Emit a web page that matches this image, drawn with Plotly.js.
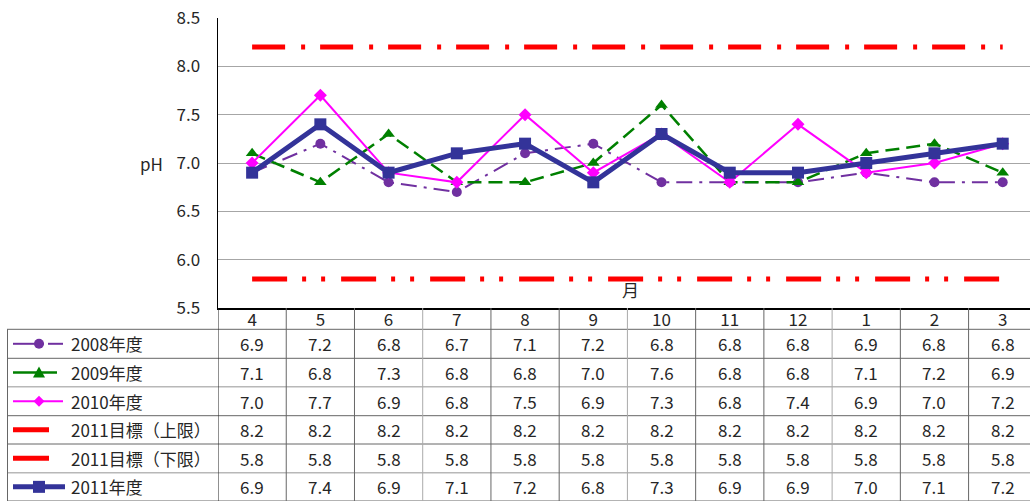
<!DOCTYPE html>
<html><head><meta charset="utf-8">
<script src="https://cdn.plot.ly/plotly-3.0.1.min.js"></script>
<style>html,body{margin:0;padding:0;background:#fff;overflow:hidden}#chart{width:1030px;height:501px}</style>
</head><body><div id="chart"></div>
<script>
// ---- data ----
const months = ['4','5','6','7','8','9','10','11','12','1','2','3'];
const v2008 = [6.9,7.2,6.8,6.7,7.1,7.2,6.8,6.8,6.8,6.9,6.8,6.8];
const v2009 = [7.1,6.8,7.3,6.8,6.8,7.0,7.6,6.8,6.8,7.1,7.2,6.9];
const v2010 = [7.0,7.7,6.9,6.8,7.5,6.9,7.3,6.8,7.4,6.9,7.0,7.2];
const upper2011 = [8.2,8.2,8.2,8.2,8.2,8.2,8.2,8.2,8.2,8.2,8.2,8.2];
const lower2011 = [5.8,5.8,5.8,5.8,5.8,5.8,5.8,5.8,5.8,5.8,5.8,5.8];
const v2011 = [6.9,7.4,6.9,7.1,7.2,6.8,7.3,6.9,6.9,7.0,7.1,7.2];
const seriesNames = ['2008年度','2009年度','2010年度','2011目標（上限）','2011目標（下限）','2011年度'];
const yTickVals = [5.5,6.0,6.5,7.0,7.5,8.0,8.5];
const yTitle = 'pH';
const xTitle = '月';

// ---- styles ----
const FONT = '"Noto Sans CJK JP", "Noto Sans", sans-serif';
const TXT = '#262626';
const FS = 17;
const W = 1030, H = 501, L = 218, R = 1030, T = 18, B = 308;
const px2x = p => (p - L) / (R - L);
const py2y = p => (B - p) / (B - T);

const styles = [
  {color:'#7030A0', width:2, dash:'16px,7px,3px,7px', symbol:'circle', size:10},
  {color:'#008000', width:2.5, dash:'14px,7px', symbol:'triangle-up', size:11},
  {color:'#FF00FF', width:2, dash:'solid', symbol:'diamond', size:10},
  {color:'#FF0000', width:5, dash:'33px,16px,4px,15px', symbol:null},
  {color:'#FF0000', width:5, dash:'35px,15px,4px,15px,4px,16px', symbol:null},
  {color:'#333399', width:5, dash:'solid', symbol:'square', size:12}
];
const seriesVals = [v2008, v2009, v2010, upper2011, lower2011, v2011];

const traces = seriesVals.map((vals, i) => {
  const s = styles[i];
  const t = {
    x: months, y: vals, name: seriesNames[i], type: 'scatter',
    mode: s.symbol ? 'lines+markers' : 'lines',
    line: {color: s.color, width: s.width, dash: s.dash},
    showlegend: false, hoverinfo: 'skip', cliponaxis: false
  };
  if (s.symbol) t.marker = {symbol: s.symbol, size: s.size, color: s.color, line: {width: 0}};
  return t;
});

// ---- table geometry (px) ----
const rowEdges = [329.3, 358.3, 386.7, 415.7, 444, 472.7, 501];
const shapes = [];
const annotations = [];
const gridCol = '#666';

rowEdges.forEach((py, k) => {
  const light = (k === 2 || k === 5);
  shapes.push({type:'line', xref:'paper', yref:'paper', x0: px2x(7), x1: 1, y0: py2y(py), y1: py2y(py),
    line:{color: light ? '#b8b8b8' : gridCol, width: light ? 1.5 : 1}});
});
shapes.push({type:'line', xref:'paper', yref:'paper', x0: px2x(7.5), x1: px2x(7.5), y0: py2y(rowEdges[0]), y1: py2y(501), line:{color:gridCol, width:1}});
for (let k = 0; k <= months.length; k++) {
  shapes.push({type:'line', xref:'x', yref:'paper', x0: k - 0.5, x1: k - 0.5, y0: 0, y1: py2y(501),
    line:{color: (k === 0) ? '#222' : (k % 3 === 0 ? '#aaa' : gridCol), width:1}});
}

// table values
seriesVals.forEach((vals, r) => {
  const cy = (rowEdges[r] + rowEdges[r+1]) / 2;
  vals.forEach((v, i) => {
    annotations.push({x: i, xref:'x', y: py2y(cy), yref:'paper', text: v.toFixed(1),
      showarrow:false, xanchor:'center', yanchor:'middle', font:{family:FONT, size:FS, color:TXT}});
  });
  annotations.push({x: px2x(69), xref:'paper', y: py2y(cy), yref:'paper', text: seriesNames[r],
    showarrow:false, xanchor:'left', yanchor:'middle', font:{family:FONT, size:FS, color:TXT}});
  const s = styles[r];
  const yk = py2y(cy);
  const lineEnd = [63, 57, 63, 49, 49, 65][r];
  if (r === 0) {
    shapes.push({type:'line', xref:'paper', yref:'paper', x0:px2x(13), x1:px2x(44), y0:yk, y1:yk, line:{color:s.color, width:s.width}});
    shapes.push({type:'line', xref:'paper', yref:'paper', x0:px2x(48), x1:px2x(63), y0:yk, y1:yk, line:{color:s.color, width:s.width}});
  } else {
    shapes.push({type:'line', xref:'paper', yref:'paper', x0:px2x(13), x1:px2x(lineEnd), y0:yk, y1:yk, line:{color:s.color, width:s.width}});
  }
  const cx = 39;
  const P = (dx, dy) => px2x(cx + dx) + ',' + py2y(cy + dy);
  if (s.symbol === 'circle') {
    shapes.push({type:'circle', xref:'paper', yref:'paper', x0:px2x(cx-5), x1:px2x(cx+5), y0:py2y(cy+5), y1:py2y(cy-5), fillcolor:s.color, line:{width:0}});
  } else if (s.symbol === 'triangle-up') {
    shapes.push({type:'path', xref:'paper', yref:'paper', path:'M' + P(0,-6) + ' L' + P(6,5) + ' L' + P(-6,5) + ' Z', fillcolor:s.color, line:{width:0}});
  } else if (s.symbol === 'diamond') {
    shapes.push({type:'path', xref:'paper', yref:'paper', path:'M' + P(0,-5.5) + ' L' + P(5.5,0) + ' L' + P(0,5.5) + ' L' + P(-5.5,0) + ' Z', fillcolor:s.color, line:{width:0}});
  } else if (s.symbol === 'square') {
    shapes.push({type:'rect', xref:'paper', yref:'paper', x0:px2x(cx-6), x1:px2x(cx+6), y0:py2y(cy+6), y1:py2y(cy-6), fillcolor:s.color, line:{width:0}});
  }
});

annotations.push({x: px2x(165), xref:'paper', y: py2y(163), yref:'paper', text: yTitle, showarrow:false,
  xanchor:'right', yanchor:'middle', font:{family:FONT, size:FS, color:TXT}});
annotations.push({x: px2x(630), xref:'paper', y: py2y(289), yref:'paper', text: xTitle, showarrow:false,
  xanchor:'center', yanchor:'middle', font:{family:FONT, size:FS, color:TXT}});

const layout = {
  width: W, height: H,
  margin: {l: L, r: W - R, t: T, b: H - B, pad: 0},
  paper_bgcolor: '#fff', plot_bgcolor: '#fff',
  showlegend: false,
  font: {family: FONT, color: TXT},
  xaxis: {type:'category', range:[-0.5, 11.4], showgrid:false, zeroline:false,
    showline:true, linecolor:'#000', linewidth:1.5, ticks:'', showticklabels:true,
    tickfont:{family:FONT, size:FS, color:TXT}, ticklabelstandoff: -4, fixedrange:true},
  yaxis: {range:[5.5, 8.5], tickvals: yTickVals, ticktext: yTickVals.map(v => v.toFixed(1)),
    showgrid:true, gridcolor:'#a6a6a6', gridwidth:1, zeroline:false,
    showline:true, linecolor:'#000', linewidth:1.5, ticks:'', ticklabelstandoff: 13,
    tickfont:{family:FONT, size:FS, color:TXT}, fixedrange:true},
  shapes: shapes,
  annotations: annotations
};

Plotly.newPlot('chart', traces, layout, {staticPlot:true, displayModeBar:false});
</script>
</body></html>
